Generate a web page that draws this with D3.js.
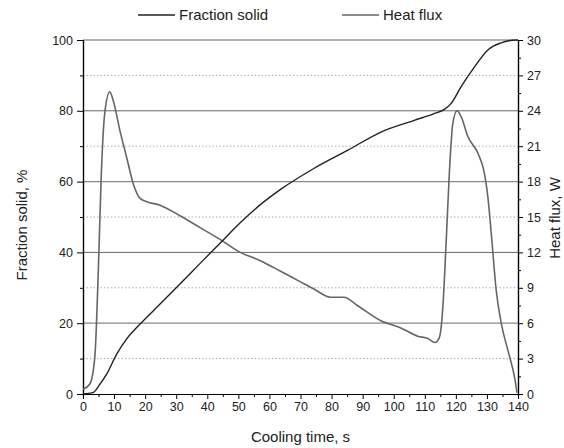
<!DOCTYPE html>
<html>
<head>
<meta charset="utf-8">
<script src="https://cdn.jsdelivr.net/npm/d3@7"></script>
<style>
body { margin: 0; background: #fff; }
svg { font-family: "Liberation Sans", Arial, sans-serif; }
</style>
</head>
<body>
<div id="chart"></div>
<script>
// fraction solid, % vs cooling time, s
var fracTime = [0, 3.2, 5.4, 7.6, 10.8, 14, 18.3, 24.8, 31.2, 37.7, 44.1, 50.6, 57.1, 63.6, 74.3, 85.1, 95.9, 106.6, 113, 116.3, 118.5, 121.7, 126, 130.3, 134.6, 137, 140];
var fracVal  = [0, 0.4, 2.7, 5.6, 11.2, 15.5, 19.7, 25.4, 31.1, 36.9, 42.6, 48.4, 53.5, 57.8, 63.7, 68.8, 74, 77.3, 79.2, 80.4, 82.1, 86.8, 92.4, 97.2, 99.2, 99.8, 100];

// heat flux, W vs cooling time, s
var fluxTime = [0, 2.2, 3.8, 4.9, 5.9, 7, 8.6, 9.7, 11.9, 14, 16.2, 18.3, 20.5, 24.8, 31.2, 37.7, 44.1, 50.6, 57.1, 63.6, 70, 74.3, 79.7, 84, 88.3, 95.9, 102.3, 107.7, 111, 113.3, 114.7, 115.8, 116.9, 117.9, 119, 120.4, 121.7, 123.9, 127.1, 129.2, 130.3, 131.4, 133, 134.6, 136.8, 138.9, 139.7];
var fluxVal  = [0.4, 0.85, 3.1, 10.2, 18.7, 23.8, 25.6, 24.9, 22.3, 20.1, 17.8, 16.6, 16.3, 16, 15.1, 14.1, 13.1, 12, 11.3, 10.4, 9.5, 8.9, 8.2, 8.2, 7.5, 6.2, 5.6, 4.9, 4.7, 4.36, 4.8, 7.3, 13, 18.7, 22.9, 24, 23.5, 21.8, 20.4, 18.7, 16.7, 13.6, 8.75, 6, 3.65, 1.4, 0.1];

var xTicks = d3.range(0, 141, 10);
var leftTicks = [0, 20, 40, 60, 80, 100];
var rightTicks = [0, 3, 6, 9, 12, 15, 18, 21, 24, 27, 30];

var width = 564, height = 448;
var margin = {top: 40, right: 46, bottom: 54, left: 83};

var svg = d3.select("#chart").append("svg")
  .attr("width", width)
  .attr("height", height);

var x = d3.scaleLinear().domain([0, 140]).range([margin.left, width - margin.right]);
var yL = d3.scaleLinear().domain([0, 100]).range([height - margin.bottom, margin.top]);
var yR = d3.scaleLinear().domain([0, 30]).range([height - margin.bottom, margin.top]);

// grid lines
var grid = svg.append("g");
grid.selectAll(".minor")
  .data([10, 30, 50, 70, 90])
  .enter().append("line")
  .attr("x1", x(0)).attr("x2", x(140))
  .attr("y1", yL).attr("y2", yL)
  .attr("stroke", "#aaa")
  .attr("stroke-width", 1)
  .attr("stroke-dasharray", "1.5,2");
grid.selectAll(".major")
  .data([20, 40, 60, 80])
  .enter().append("line")
  .attr("x1", x(0)).attr("x2", x(140))
  .attr("y1", yL).attr("y2", yL)
  .attr("stroke", function(d, i) { return i % 2 ? "#555" : "#888"; })
  .attr("stroke-width", function(d, i) { return i % 2 ? 0.9 : 1.2; });
grid.append("line")
  .attr("x1", x(0)).attr("x2", x(140))
  .attr("y1", yL(100)).attr("y2", yL(100))
  .attr("stroke", "#999")
  .attr("stroke-width", 1.5);

// axes
function styleAxis(g) {
  g.selectAll("path").attr("stroke", "#000").attr("stroke-width", 1.2);
  g.selectAll("line").attr("stroke", "#000").attr("stroke-width", 1);
  g.selectAll("text").attr("font-size", "12.5px").attr("fill", "#222")
    .attr("font-family", "Liberation Sans, Arial, sans-serif");
}

// minor ticks first
svg.append("g")
  .attr("transform", "translate(0," + yL(0) + ")")
  .call(d3.axisBottom(x).tickValues(d3.range(5, 140, 10)).tickSize(3).tickFormat(""))
  .call(styleAxis);
svg.append("g")
  .attr("transform", "translate(" + x(0) + ",0)")
  .call(d3.axisLeft(yL).tickValues([10, 30, 50, 70, 90]).tickSize(3).tickFormat(""))
  .call(styleAxis);
svg.append("g")
  .attr("transform", "translate(" + x(140) + ",0)")
  .call(d3.axisRight(yR).tickValues(d3.range(1.5, 30, 3)).tickSize(3).tickFormat(""))
  .call(styleAxis);

svg.append("g")
  .attr("transform", "translate(0," + yL(0) + ")")
  .call(d3.axisBottom(x).tickValues(xTicks).tickSize(5).tickSizeOuter(0).tickPadding(3))
  .call(styleAxis);
svg.append("g")
  .attr("transform", "translate(" + x(0) + ",0)")
  .call(d3.axisLeft(yL).tickValues(leftTicks).tickSize(6).tickSizeOuter(0).tickPadding(4))
  .call(styleAxis);
svg.append("g")
  .attr("transform", "translate(" + x(140) + ",0)")
  .call(d3.axisRight(yR).tickValues(rightTicks).tickSize(5).tickSizeOuter(0).tickPadding(4))
  .call(styleAxis);

// curves
var fracLine = d3.line()
  .x(function(d, i) { return x(fracTime[i]); })
  .y(function(d) { return yL(d); })
  .curve(d3.curveMonotoneX);
var fluxLine = d3.line()
  .x(function(d, i) { return x(fluxTime[i]); })
  .y(function(d) { return yR(d); })
  .curve(d3.curveMonotoneX);

svg.append("path")
  .datum(fluxVal)
  .attr("d", fluxLine)
  .attr("fill", "none")
  .attr("stroke", "#666")
  .attr("stroke-width", 1.6);
svg.append("path")
  .datum(fracVal)
  .attr("d", fracLine)
  .attr("fill", "none")
  .attr("stroke", "#222")
  .attr("stroke-width", 1.4);

// axis titles
svg.append("text")
  .attr("x", (x(0) + x(140)) / 2)
  .attr("y", 442)
  .attr("text-anchor", "middle")
  .attr("font-size", "15px")
  .attr("fill", "#222")
  .text("Cooling time, s");
svg.append("text")
  .attr("transform", "translate(27,225) rotate(-90)")
  .attr("text-anchor", "middle")
  .attr("font-size", "15px")
  .attr("fill", "#222")
  .text("Fraction solid, %");
svg.append("text")
  .attr("transform", "translate(560,218) rotate(-90)")
  .attr("text-anchor", "middle")
  .attr("font-size", "15px")
  .attr("fill", "#222")
  .text("Heat flux, W");

// legend
var legend = [
  {name: "Fraction solid", color: "#222", x: 138},
  {name: "Heat flux", color: "#666", x: 342}
];
var lg = svg.selectAll(".legend")
  .data(legend)
  .enter().append("g")
  .attr("transform", function(d) { return "translate(" + d.x + ",15)"; });
lg.append("line")
  .attr("x1", 0).attr("x2", 37)
  .attr("stroke", function(d) { return d.color; })
  .attr("stroke-width", 1.5);
lg.append("text")
  .attr("x", 41)
  .attr("dy", "0.35em")
  .attr("font-size", "15px")
  .attr("fill", "#222")
  .text(function(d) { return d.name; });
</script>
</body>
</html>
